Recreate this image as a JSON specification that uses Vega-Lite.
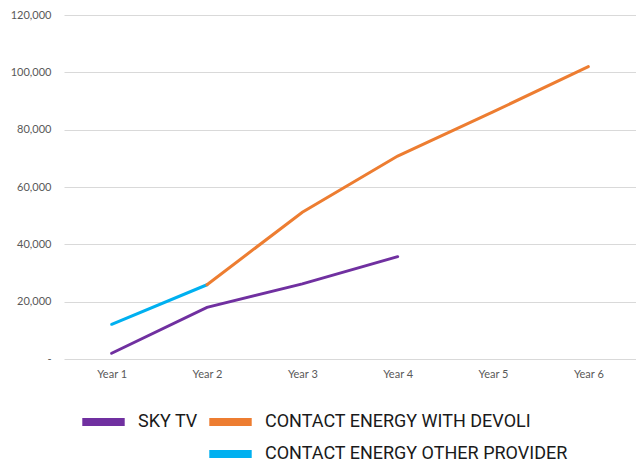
{
  "$schema": "https://vega.github.io/schema/vega-lite/v6.json",
  "width": 572,
  "height": 344,
  "autosize": {"type": "none"},
  "padding": {"left": 64, "top": 15, "right": 0, "bottom": 102},
  "background": "white",
  "config": {"view": {"stroke": null}},
  "data": {
    "values": [
      {"series": "SKY TV", "year": "Year 1", "value": 2000},
      {"series": "SKY TV", "year": "Year 2", "value": 18000},
      {"series": "SKY TV", "year": "Year 3", "value": 26200},
      {"series": "SKY TV", "year": "Year 4", "value": 35700},
      {"series": "CONTACT ENERGY OTHER PROVIDER", "year": "Year 1", "value": 12100},
      {"series": "CONTACT ENERGY OTHER PROVIDER", "year": "Year 2", "value": 25900},
      {"series": "CONTACT ENERGY WITH DEVOLI", "year": "Year 2", "value": 25900},
      {"series": "CONTACT ENERGY WITH DEVOLI", "year": "Year 3", "value": 51200},
      {"series": "CONTACT ENERGY WITH DEVOLI", "year": "Year 4", "value": 70800},
      {"series": "CONTACT ENERGY WITH DEVOLI", "year": "Year 5", "value": 86200},
      {"series": "CONTACT ENERGY WITH DEVOLI", "year": "Year 6", "value": 102000}
    ]
  },
  "mark": {"type": "line", "strokeWidth": 3, "strokeCap": "round"},
  "encoding": {
    "x": {
      "field": "year",
      "type": "ordinal",
      "sort": ["Year 1", "Year 2", "Year 3", "Year 4", "Year 5", "Year 6"],
      "scale": {"domain": ["Year 1", "Year 2", "Year 3", "Year 4", "Year 5", "Year 6"], "type": "point", "padding": 0.5},
      "axis": {
        "title": null,
        "labelAngle": 0,
        "domain": false,
        "ticks": false,
        "grid": false,
        "labelFont": "Lato",
        "labelFontSize": 11,
        "labelColor": "#595959",
        "labelPadding": 9
      }
    },
    "y": {
      "field": "value",
      "type": "quantitative",
      "scale": {"domain": [0, 120000], "nice": false},
      "axis": {
        "title": null,
        "values": [0, 20000, 40000, 60000, 80000, 100000, 120000],
        "labelExpr": "datum.value === 0 ? '-' : format(datum.value, ',')",
        "domain": false,
        "ticks": false,
        "grid": true,
        "gridColor": "#D9D9D9",
        "gridWidth": 1,
        "labelFont": "Lato",
        "labelFontSize": 11,
        "labelColor": "#595959",
        "labelPadding": 13
      }
    },
    "color": {
      "field": "series",
      "type": "nominal",
      "scale": {
        "domain": ["SKY TV", "CONTACT ENERGY WITH DEVOLI", " ", "CONTACT ENERGY OTHER PROVIDER"],
        "range": ["#7030A0", "#ED7D31", "transparent", "#00B0F0"]
      },
      "legend": {
        "title": null,
        "orient": "none",
        "direction": "horizontal",
        "legendX": 14,
        "legendY": 395,
        "columns": 2,
        "symbolType": "stroke",
        "symbolSize": 1800,
        "symbolStrokeWidth": 8,
        "clipHeight": 24,
        "labelFont": "Roboto",
        "labelFontSize": 18,
        "labelColor": "#1a1a1a",
        "labelOffset": 9,
        "columnPadding": 7,
        "rowPadding": 8,
        "labelLimit": 400
      }
    }
  }
}
